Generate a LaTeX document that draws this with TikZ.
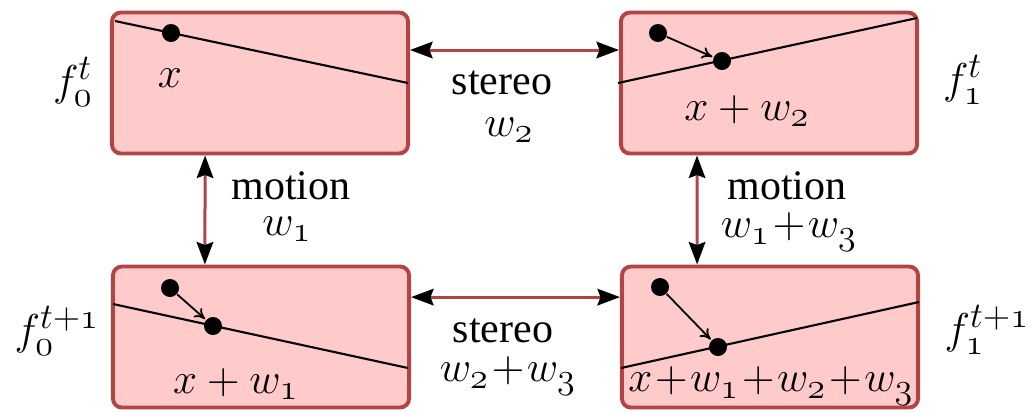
\documentclass[tikz,border=0pt]{standalone}
\usepackage[no-math]{fontspec}
\setmainfont{Liberation Serif}
\usetikzlibrary{arrows.meta}
\DeclareMathSizes{14}{14}{12}{9}
\DeclareMathSizes{15}{15}{12.5}{9}
\definecolor{boxfill}{RGB}{255,202,202}
\definecolor{boxline}{RGB}{178,68,68}
\newcommand{\od}[1]{\mathnormal{#1}}
\newcommand{\pl}{\mkern1mu{+}\mkern1mu}
\begin{document}
\begin{tikzpicture}[x=0.3333pt,y=-0.3333pt,
  every node/.append style={font=\fontsize{14}{17}\selectfont, inner sep=0pt},
  fbox/.style={draw=boxline, fill=boxfill, line width=1.3pt, rounded corners=3pt,
    minimum width=98.7pt, minimum height=47pt},
  dot/.style={circle, fill=black, minimum size=6pt},
  sline/.style={black, line width=0.7pt},
  darrow/.style={black, line width=0.6pt, -{To[length=3.5pt,width=4pt]}, shorten >=0.3pt},
  link/.style={draw=boxline, line width=1pt,
    {Stealth[length=7.5pt,width=5.5pt,inset=1pt,black]}-{Stealth[length=7.5pt,width=5.5pt,inset=1pt,black]}},
  flab/.style={font=\fontsize{15}{18}\selectfont}
]
\useasboundingbox (0,0) rectangle (1034,412);

% boxes
\node[fbox] (A) at (260,83) {};
\node[fbox] (B) at (769,83) {};
\node[fbox] (C) at (261,337) {};
\node[fbox] (D) at (770,337) {};

% lines inside boxes
\draw[sline] (115,21) -- (408,83);
\draw[sline] (618,83) -- (917,18);
\draw[sline] (113,304) -- (408,368);
\draw[sline] (621,368) -- (919,302);

% dots
\node[dot] (a1) at (171,33) {};
\node[dot] (b1) at (658,33) {};
\node[dot] (b2) at (722,61) {};
\node[dot] (c1) at (170,288) {};
\node[dot] (c2) at (213,326) {};
\node[dot] (d1) at (660,287) {};
\node[dot] (d2) at (718,347) {};

\draw[darrow] (b1) -- (b2);
\draw[darrow] (c1) -- (c2);
\draw[darrow] (d1) -- (d2);

% labels inside boxes
\node (la) at (170,78) {$x$};
\node (lb) at (747,111) {$x+w_{\od{2}}$};
\node (lc) at (236,384) {$x+w_{\od{1}}$};
\node (ld) at (771,386) {$x\mkern1mu{+}\mkern1mu w_{\od{1}}\pl w_{\od{2}}\pl w_{\od{3}}$};

% frame labels
\node[flab] (fa) at (73,82) {$f^{t}_{\od{0}}$};
\node[flab] (fb) at (963,80) {$f^{t}_{\od{1}}$};
\node[flab] (fc) at (57,331) {$f^{t+\od{1}}_{\od{0}}$};
\node[flab] (fd) at (987,330) {$f^{t+\od{1}}_{\od{1}}$};

% connectors
\draw[link] ([yshift=11pt]A.east) -- ([yshift=11pt]B.west);
\draw[link] ([yshift=13.3pt]C.east) -- ([yshift=13.3pt]D.west);
\draw[link] ([xshift=-18.3pt]A.south) -- ([xshift=-18.7pt]C.north);
\draw[link] ([xshift=-24pt]B.south) -- ([xshift=-24.3pt]D.north);

% connector labels
\node (s1) at (502,83) {stereo};
\node (s1w) at (509,130) {$w_{\od{2}}$};
\node (m1) at (291,186) {motion};
\node (m1w) at (287,229) {$w_{\od{1}}$};
\node (m2) at (787,186) {motion};
\node (m2w) at (789,232) {$w_{\od{1}}\pl w_{\od{3}}$};
\node (s2) at (503,331) {stereo};
\node (s2w) at (508,376) {$w_{\od{2}}\pl w_{\od{3}}$};
\end{tikzpicture}
\end{document}
